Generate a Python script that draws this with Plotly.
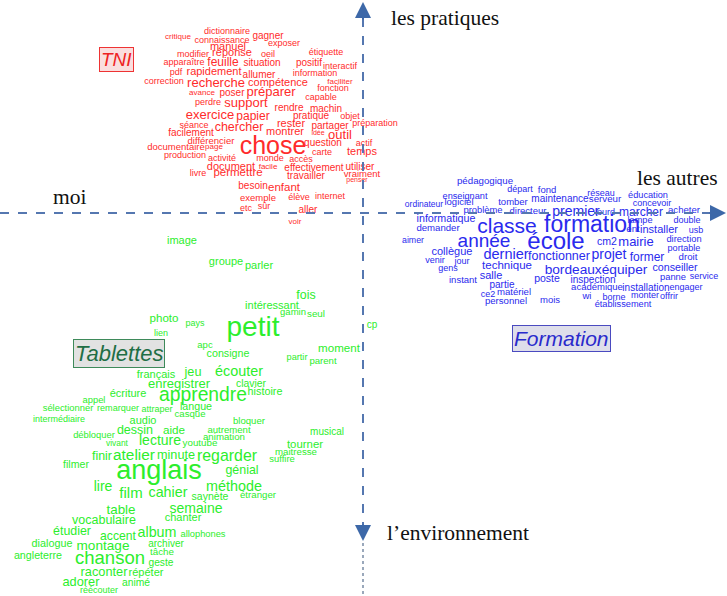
import plotly.graph_objects as go

# ---- data: factor coordinates (F1, F2) and frequency-weighted sizes ----
red_words = ["critique","dictionnaire","connaissance","manuel","modifier","réponse","apparaître","feuille","situation","pdf",
             "rapidement","allumer","correction","recherche","compétence","avance","poser","préparer","perdre","support",
             "exercice","papier","gagner","exposer","oeil","étiquette","positif","interactif","information","faciliter",
             "fonction","capable","rendre","machin","pratique","objet","rester","partager","préparation","montrer",
             "idée","outil","chose","question","actif","carte","temps","monde","accès","facile",
             "effectivement","utiliser","travailler","vraiment","penser","enfant","élève","internet","sûr","aller",
             "voir","séance","chercher","facilement","différencier","documentaire","page","production","activité","document",
             "permettre","livre","besoin","exemple","etc"]
red_x = [-185,-136,-141,-135,-170,-131,-179,-140,-101,-187,
         -149,-104,-199,-147,-85,-161,-131,-92,-155,-117,
         -153,-110,-95,-79,-95,-37,-54,-23,-48,-23,
         -30,-42,-74,-37,-52,-13,-72,-33,12,-78,
         -45,-23,-90,-40,1,-41,-1,-93,-62,-95,
         -49,-3,-57,-1,-6,-79,-64,-33,-99,-55,
         -68,-169,-124,-172,-152,-187,-149,-178,-141,-132,
         -125,-165,-110,-105,-117]
red_y = [176,181,172,166,158,160,150,150,150,140,
         141,138,131,129,130,120,120,120,110,109,
         97,96,177,169,158,160,150,146,139,131,
         124,115,105,104,97,96,89,87,89,81,
         80,77,65,70,69,60,61,54,53,46,
         45,46,37,38,33,25,15,16,6,3,
         -9,87,85,80,71,65,66,57,54,46,
         40,39,27,14,4]
red_w = [8,9,9,11,9,11,9,12,10,9,
         11,10,9,13,11,8,10,13,9,13,
         13,12,10,9,9,9,10,9,9,8,
         9,9,10,10,10,9,11,10,9,11,
         7,13,25,10,9,9,11,9,9,8,
         10,10,10,9.5,7,11.5,9,9,9,10,
         8,9,12.5,10,9.5,9.5,8,9,9,11,
         11.5,9,10,9.5,9]

blue_words = ["pédagogique","départ","fond","enseignant","maintenance","ordinateur","logiciel","tomber","problème","directeur",
              "premier","informatique","classe","formation","demander","année","école","aimer","collègue","dernier",
              "fonctionner","venir","jour","technique","gens","bordeauxéquiper","salle","poste","instant","partie",
              "ce2","matériel","personnel","mois","réseau","serveur","éducation","concevoir","lourd","marcher",
              "acheter","lampe","double","ent","installer","usb","cm2","mairie","direction","portable",
              "projet","former","droit","conseiller","inspection","panne","service","académique","installation","engager",
              "wi","borne","monter","offrir","établissement"]
blue_x = [122,157,184,102,197,61,96,150,120,165,
          213,83,144,229,75,121,193,50,89,143,
          196,72,99,144,85,233,128,184,100,139,
          125,151,143,187,238,242,285,289,242,278,
          321,277,324,270,296,333,244,273,321,321,
          246,284,325,312,230,310,341,234,283,323,
          224,251,282,306,260]
blue_y = [31,23,22,16,14,8,10,10,2,1,
          1,-6,-15,-13,-16,-29,-30,-28,-39,-42,
          -44,-48,-49,-53,-56,-58,-63,-66,-68,-72,
          -82,-80,-89,-88,19,13,17,9,0,0,
          2,-8,-8,-17,-17,-18,-29,-30,-27,-36,
          -42,-45,-45,-55,-67,-65,-64,-75,-75,-75,
          -84,-85,-83,-84,-92]
blue_w = [9.7,9,9.5,9.2,10,8.5,9.5,9.5,9.4,9.5,
          14,10.7,21,23,9.6,19,24,8.8,11,14.5,
          12.5,9,9,11.5,9,13.7,11,10.5,9.5,10,
          9,9.6,9.6,9.5,9,9.7,9.2,9,9,12,
          9.6,9.2,9,9.6,11,9,10.6,13,9.3,9.1,
          14,12,9.7,10.7,10,9.4,9,9.5,10,9,
          9.5,9,9,9,9.2]

green_words = ["image","photo","pays","lien","apc","groupe","parler","fois","intéressant","gamin",
               "seul","petit","cp","moment","consigne","partir","parent","écouter","clavier","histoire",
               "apprendre","bloquer","autrement","musical","animation","youtube","tourner","maitresse","suffire","regarder",
               "génial","français","jeu","enregistrer","écriture","appel","langue","sélectionner","remarquer","attraper",
               "casque","intermédiaire","audio","dessin","aide","débloquer","vivant","lecture","finir","atelier",
               "minute","filmer","anglais","lire","film","cahier","méthode","saynète","étranger","semaine",
               "table","chanter","vocabulaire","étudier","accent","album","allophones","dialogue","montage","archiver",
               "angleterre","chanson","tâche","geste","raconter","répéter","adorer","animé","réécouter"]
green_x = [-181,-199,-168,-202,-158,-137,-104,-57,-91,-70,
           -47,-110,9,-24,-135,-66,-40,-124,-112,-98,
           -160,-114,-134,-36,-139,-163,-58,-67,-81,-136,
           -121,-207,-170,-184,-235,-269,-167,-295,-245,-206,
           -173,-304,-220,-228,-189,-269,-246,-203,-261,-229,
           -187,-287,-204,-260,-232,-195,-129,-153,-105,-167,
           -242,-180,-259,-291,-245,-206,-160,-311,-260,-197,
           -325,-253,-201,-202,-259,-217,-282,-227,-264]
green_y = [-28,-106,-111,-121,-133,-49,-53,-83,-93,-100,
           -102,-116,-112,-136,-141,-145,-149,-159,-171,-179,
           -183,-209,-218,-219,-225,-231,-232,-240,-247,-244,
           -258,-162,-160,-172,-181,-188,-194,-196,-196,-197,
           -202,-207,-208,-218,-218,-223,-231,-228,-244,-243,
           -243,-252,-259,-274,-281,-280,-274,-284,-283,-296,
           -298,-305,-308,-319,-324,-320,-322,-331,-334,-331,
           -343,-346,-340,-350,-360,-360,-370,-370,-378]
green_w = [11,11.6,9,9,9.5,11,11,12.4,11,9.5,
           9.8,28,10,11.6,10.7,9.2,9.6,14.4,10.4,10.8,
           19.3,9.6,9.6,10,9.7,9.8,11.4,9.7,9.5,15.9,
           12.4,11,12.7,13,11,9.4,10.7,9.4,9.1,9,
           9.6,9,11,12.5,11.7,9.4,8.4,14,12.4,15.4,
           12.7,10.6,27,14,15,14.3,14.4,10.5,9.7,14,
           13.4,11,12.5,12.4,12.2,14.3,9.3,10.8,13.6,10,
           10.7,18.5,9.8,10.2,12.8,11,12.8,10.3,9]

pole_labels = ["les pratiques", "les autres", "moi", "l’environnement"]
pole_x = [82, 314, -294, 95]
pole_y = [195, 35, 16, -320]

group_labels = ["TNI", "Tablettes", "Formation"]
group_x = [-247, -244, 198]
group_y = [154, -140, -125]

X_RANGE = [-363, 364]
Y_RANGE = [-383, 213]

WORD_FONT = "Liberation Sans, Arial, sans-serif"

fig = go.Figure()
for words, xs, ys, ws, col in [
    (red_words, red_x, red_y, red_w, "#ff2b2b"),
    (blue_words, blue_x, blue_y, blue_w, "#2a2aee"),
    (green_words, green_x, green_y, green_w, "#2cee2c"),
]:
    fig.add_trace(go.Scatter(
        x=xs, y=ys, text=words, mode="text", textposition="middle center",
        textfont=dict(family=WORD_FONT, size=ws, color=col),
        hoverinfo="skip", showlegend=False, cliponaxis=False))

AX_COL = "#5577b0"
# axes
fig.add_shape(type="line", x0=X_RANGE[0], x1=352, y0=0, y1=0,
              line=dict(color=AX_COL, width=2, dash="dash"))
fig.add_shape(type="line", x0=0, x1=0, y0=-318, y1=196,
              line=dict(color=AX_COL, width=2, dash="dash"))
fig.add_shape(type="line", x0=0, x1=0, y0=-330, y1=Y_RANGE[0],
              line=dict(color="#9aa8bb", width=2, dash="dot"))
arrows = [
    dict(x=363, y=0, ax=345, ay=0),
    dict(x=0, y=211, ax=0, ay=192),
    dict(x=0, y=-328, ax=0, ay=-310),
]
for a in arrows:
    fig.add_annotation(x=a["x"], y=a["y"], ax=a["ax"], ay=a["ay"],
                       xref="x", yref="y", axref="x", ayref="y", text="",
                       showarrow=True, arrowhead=2, arrowsize=1.6, arrowwidth=2,
                       arrowcolor="#3d68a8", standoff=0)

for t, x, y in zip(pole_labels, pole_x, pole_y):
    fig.add_annotation(x=x, y=y, text=t, showarrow=False,
                       font=dict(family="Liberation Serif, Times New Roman, serif",
                                 size=21.5, color="#111111"))

box_styles = [
    dict(font_color="#ee2222", bg="#fadede", border="#ee3333", size=19),
    dict(font_color="#1f6e45", bg="#e2e2e2", border="#3e8a5a", size=22),
    dict(font_color="#2a2acc", bg="#dedeea", border="#4a4ac0", size=21),
]
for t, x, y, s in zip(group_labels, group_x, group_y, box_styles):
    fig.add_annotation(x=x, y=y, text="<i>" + t + "</i>", showarrow=False,
                       font=dict(family="Liberation Sans, Arial, sans-serif",
                                 size=s["size"], color=s["font_color"]),
                       bgcolor=s["bg"], bordercolor=s["border"], borderwidth=1,
                       borderpad=1)

fig.update_layout(
    width=727, height=596, margin=dict(l=0, r=0, t=0, b=0),
    paper_bgcolor="white", plot_bgcolor="white",
    xaxis=dict(range=X_RANGE, visible=False, fixedrange=True),
    yaxis=dict(range=Y_RANGE, visible=False, fixedrange=True),
)
fig.write_html("out.html", config={"displayModeBar": False},
               post_script="document.body.style.margin='0';document.body.style.padding='0';")
